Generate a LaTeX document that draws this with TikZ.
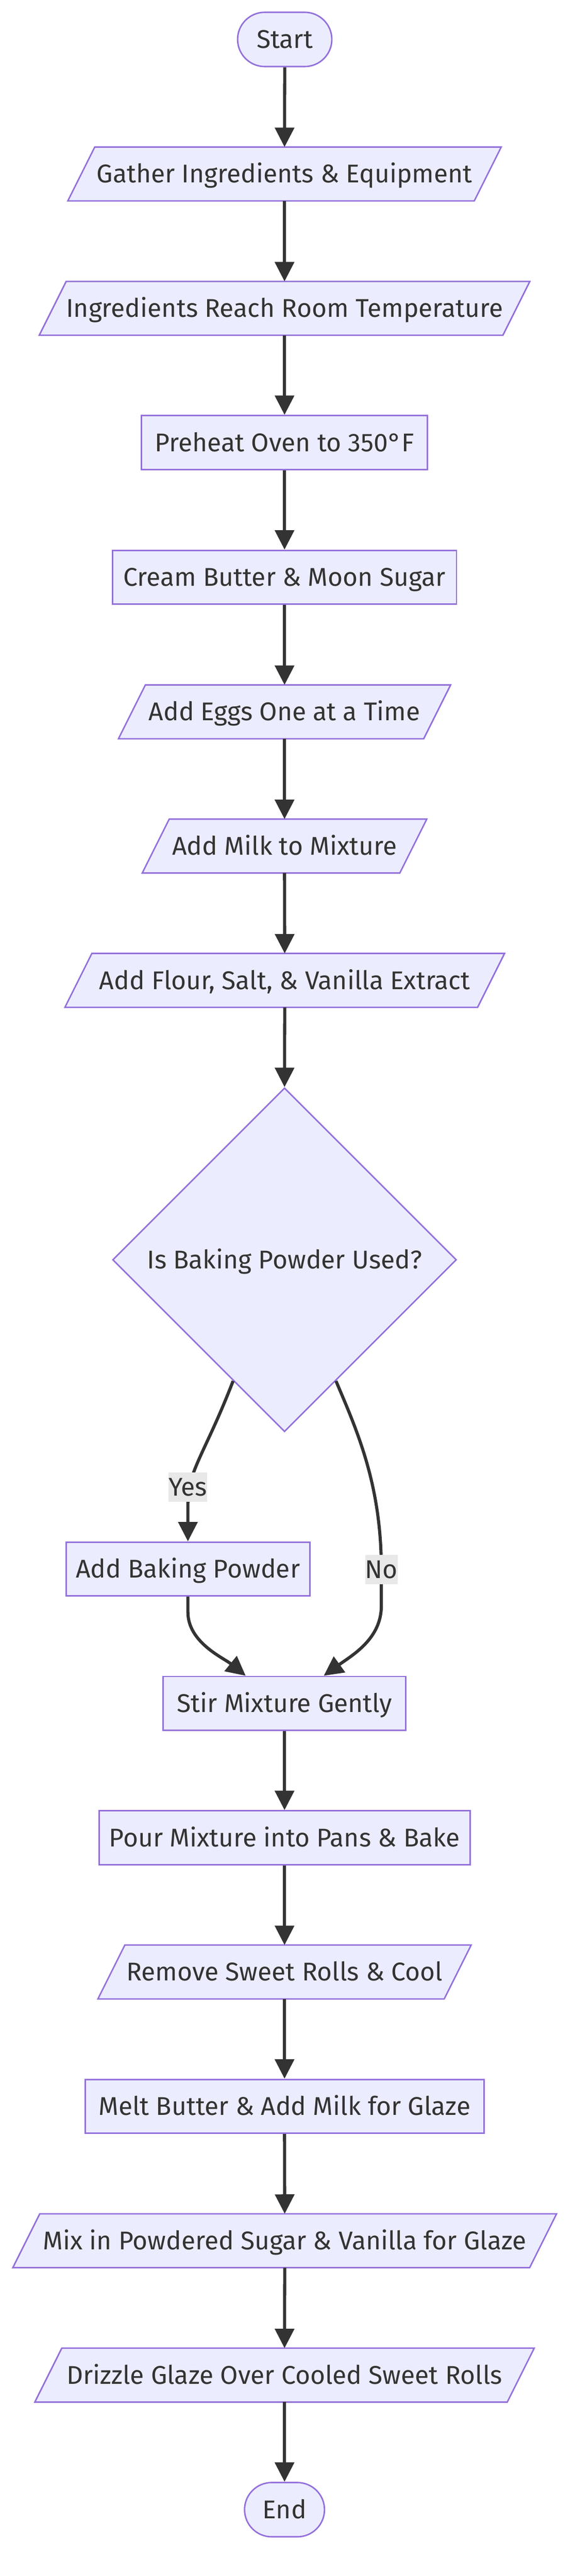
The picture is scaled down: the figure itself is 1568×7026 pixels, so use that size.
\documentclass[tikz,border=0pt]{standalone}
\usepackage{fontspec}
\setmainfont{Fira Sans}
\usetikzlibrary{arrows.meta,shapes.geometric}
\definecolor{nodefill}{HTML}{ECECFF}
\definecolor{nodeline}{HTML}{9370DB}
\definecolor{ink}{HTML}{333333}
\definecolor{labbg}{HTML}{E8E8E8}
\pgfdeclarelayer{bg}
\pgfsetlayers{bg,main}
\begin{document}
\begin{tikzpicture}[x=1pt,y=-1pt,
  txt/.style={font=\fontsize{70}{84}\selectfont, text=ink, text height=48pt, text depth=0pt, inner sep=0pt, align=center},
  boxed/.style={txt, draw=nodeline, fill=nodefill, line width=4pt, minimum height=147pt},
  procbox/.style={boxed, rectangle},
  termbox/.style={boxed, rectangle, rounded corners=74pt, minimum height=148pt},
  leanbox/.style={txt, rectangle, minimum height=147pt, outer sep=0pt},
  leanshape/.style={draw=nodeline, fill=nodefill, line width=4pt, line join=miter},
  decbox/.style={txt, diamond, draw=nodeline, fill=nodefill, line width=4pt, minimum width=938pt, minimum height=938pt, aspect=1},
  edge/.style={draw=ink, line width=8.5pt, -{Triangle[length=53pt,width=52pt]}},
  elab/.style={txt, fill=labbg, minimum height=80pt}
]
\useasboundingbox (0,0) rectangle (1568,7026);

% nodes
\node[termbox, minimum width=257pt] (start) at (776.5,107.5) {Start};
\node[leanbox, minimum width=1182pt] (gather) at (776,474.5) {Gather Ingredients \& Equipment};
\node[leanbox, minimum width=1338pt] (warm) at (776,841) {Ingredients Reach Room Temperature};
\node[procbox, minimum width=780pt] (oven) at (776,1207) {Preheat Oven to 350°F};
\node[procbox, minimum width=938pt] (cream) at (776,1574.5) {Cream Butter \& Moon Sugar};
\node[leanbox, minimum width=906pt] (eggs) at (776,1941.5) {Add Eggs One at a Time};
\node[leanbox, minimum width=776pt] (milk) at (776,2307.5) {Add Milk to Mixture};
\node[leanbox, minimum width=1199pt] (flour) at (776.5,2674) {Add Flour, Salt, \& Vanilla Extract};
\node[decbox] (dec) at (776,3436) {Is Baking Powder Used?};
\node[procbox, minimum width=665pt] (powder) at (512.5,4279.5) {Add Baking Powder};
\node[procbox, minimum width=662pt] (stir) at (776,4646) {Stir Mixture Gently};
\node[procbox, minimum width=1012pt] (pour) at (776,5012.5) {Pour Mixture into Pans \& Bake};
\node[leanbox, minimum width=1018pt] (cool) at (776,5378.5) {Remove Sweet Rolls \& Cool};
\node[procbox, minimum width=1088pt] (melt) at (776,5745) {Melt Butter \& Add Milk for Glaze};
\node[leanbox, minimum width=1483pt] (mix) at (776.5,6111.5) {Mix in Powdered Sugar \& Vanilla for Glaze};
\node[leanbox, minimum width=1362pt] (drizzle) at (776,6478) {Drizzle Glaze Over Cooled Sweet Rolls};
\node[termbox, minimum width=218pt] (end) at (776,6845) {End};

% parallelogram outlines behind the lean nodes
\begin{pgfonlayer}{bg}
  \fill[white] (0,0) rectangle (1568,7026);
  \foreach \n in {gather,warm,eggs,milk,flour,cool,mix,drizzle}{
    \path[leanshape] (\n.south west) -- ([xshift=73.5pt]\n.north west) -- (\n.north east) -- ([xshift=-73.5pt]\n.south east) -- cycle;
  }
\end{pgfonlayer}

% straight connectors
\draw[edge] (start.south) -- (gather.north);
\draw[edge] (gather.south) -- (warm.north);
\draw[edge] (warm.south) -- (oven.north);
\draw[edge] (oven.south) -- (cream.north);
\draw[edge] (cream.south) -- (eggs.north);
\draw[edge] (eggs.south) -- (milk.north);
\draw[edge] (milk.south) -- (flour.north);
\draw[edge] (flour.south) -- (dec.north);
\draw[edge] (stir.south) -- (pour.north);
\draw[edge] (pour.south) -- (cool.north);
\draw[edge] (cool.south) -- (melt.north);
\draw[edge] (melt.south) -- (mix.north);
\draw[edge] (mix.south) -- (drizzle.north);
\draw[edge] (drizzle.south) -- (end.north);

% decision branches
\coordinate (yesbend) at (512.5,4100);
\coordinate (nomid) at (1040,4280.5);
\coordinate (nobend) at (1040,4380);
\coordinate (pbend) at (512.5,4397);
\draw[edge] (dec.247) .. controls (560,3963) and (512.5,4010) .. (yesbend) -- (powder.north);
\draw[edge] (dec.293) .. controls (975,3905) and (1040,4050) .. (nomid) -- (nobend) .. controls (1040,4470) and (960,4515) .. ([xshift=107pt]stir.north);
\draw[edge] (powder.south) -- (pbend) .. controls (512.5,4480) and (610,4522) .. ([xshift=-106pt]stir.north);

\node[elab] (yes) at (512.5,4056) {Yes};
\node[elab] (no) at (nomid) {No};
\end{tikzpicture}
\end{document}
